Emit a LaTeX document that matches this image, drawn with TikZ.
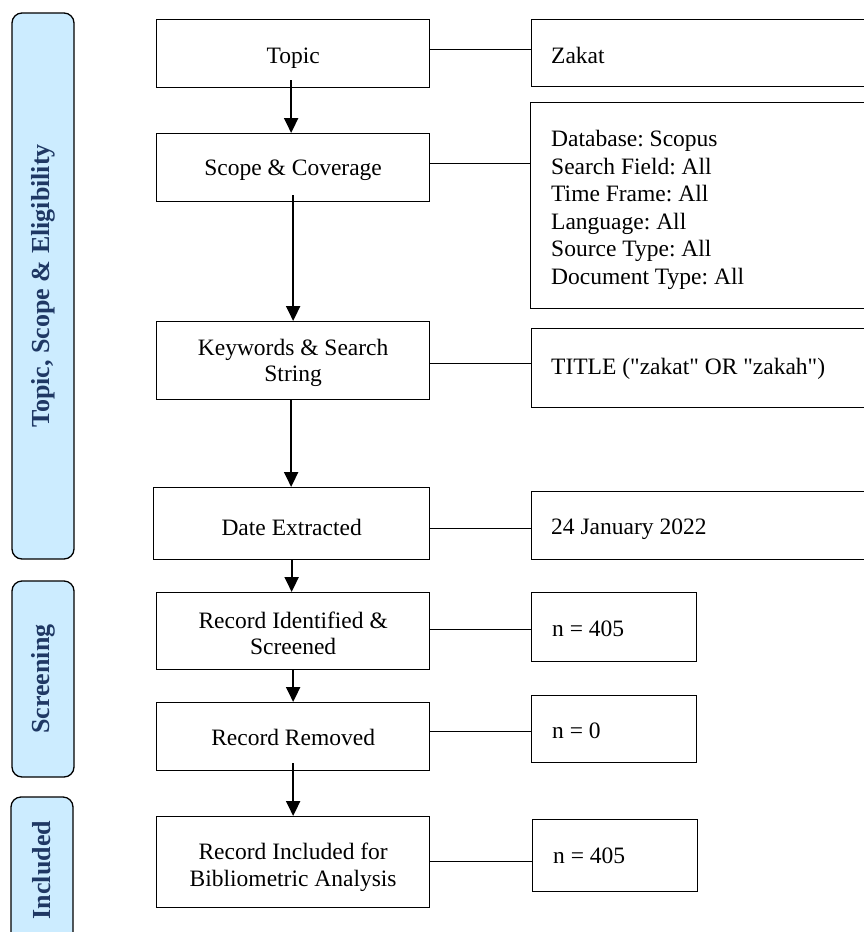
\documentclass[tikz,border=0pt]{standalone}
\usepackage{fontspec}
\setmainfont{Liberation Serif}
\newfontfamily\plainserif{Liberation Serif}
\usetikzlibrary{arrows.meta}
\definecolor{barfill}{RGB}{204,236,255}
\definecolor{bartext}{RGB}{31,56,100}
\begin{document}
\frenchspacing
\begin{tikzpicture}[x=1pt,y=-1pt,
  box/.style={draw, line width=1.3pt, inner sep=0pt, anchor=north west},
  txt/.style={inner sep=0pt, align=center, font=\fontsize{23.5}{26.5}\selectfont\frenchspacing},
  rtxt/.style={inner sep=0pt, align=left, anchor=west, font=\fontsize{23.5}{27.5}\selectfont\frenchspacing},
  bar/.style={draw, line width=1.3pt, fill=barfill, rounded corners=10pt, rotate=90, inner sep=0pt,
    minimum height=62pt, text=bartext, font=\fontsize{26}{30}\selectfont\bfseries},
  arr/.style={line width=2pt, -{Triangle[width=14pt,length=15pt]}},
  link/.style={line width=1pt}]
\useasboundingbox (0,0) rectangle (864,932);
\clip (0,0) rectangle (864,932);

% phase bars
\node[bar, minimum width=546pt] (bar1) at (43,286) {Topic, Scope \& Eligibility};
\node[bar, minimum width=196pt] (bar2) at (43,679) {Screening};
\node[bar, minimum width=146pt] (bar3) at (42,870) {Included};

% left column boxes
\node[box, minimum width=273pt, minimum height=68pt] (topic) at (156,19) {};
\node[box, minimum width=273pt, minimum height=68pt] (scope) at (156,133) {};
\node[box, minimum width=273pt, minimum height=78pt] (keys) at (156,321) {};
\node[box, minimum width=276pt, minimum height=72pt] (date) at (153,487) {};
\node[box, minimum width=273pt, minimum height=77pt] (ident) at (156,592) {};
\node[box, minimum width=273pt, minimum height=68pt] (removed) at (156,702) {};
\node[box, minimum width=273pt, minimum height=91pt] (incl) at (156,816) {};

\node[txt] (topicT) at ([yshift=-5pt]topic.center) {Topic};
\node[txt] (scopeT) at ([yshift=-3pt]scope.center) {Scope \& Coverage};
\node[txt] (keysT) at ([yshift=-2pt]keys.center) {Keywords \& Search\\String};
\node[txt] (dateT) at ([yshift=-4pt]date.center) {Date Extracted};
\node[txt] (identT) at ([yshift=-2pt]ident.center) {Record Identified \&\\Screened};
\node[txt] (removedT) at ([yshift=-1pt]removed.center) {Record Removed};
\node[txt] (inclT) at ([yshift=-5pt]incl.center) {Record Included for\\Bibliometric Analysis};

% right column boxes
\node[box, minimum width=349pt, minimum height=67pt] (zakat) at (531,19) {};
\node[box, minimum width=350pt, minimum height=206pt] (db) at (530,102) {};
\node[box, minimum width=349pt, minimum height=79pt] (title) at (531,328) {};
\node[box, minimum width=349pt, minimum height=68pt] (jan) at (531,491) {};
\node[box, minimum width=165pt, minimum height=69pt] (n1) at (531,592) {};
\node[box, minimum width=165pt, minimum height=67pt] (n2) at (531,695) {};
\node[box, minimum width=165pt, minimum height=72pt] (n3) at (532,819) {};

\node[rtxt] (zakatT) at ([xshift=20pt,yshift=-2pt]zakat.west) {Zakat};
\node[rtxt] (dbT) at ([xshift=21pt,yshift=-4pt]db.west) {Database: Scopus\\Search Field: All\\Time Frame: All\\Language: All\\Source Type: All\\Document Type: All};
\node[rtxt] (titleT) at ([xshift=20pt,yshift=-1pt]title.west) {\plainserif TITLE ("zakat" OR "zakah")};
\node[rtxt] (janT) at ([xshift=20pt,yshift=-4pt]jan.west) {24 January 2022};
\node[rtxt] (n1T) at ([xshift=21pt,yshift=-2pt]n1.west) {n = 405};
\node[rtxt] (n2T) at ([xshift=21pt,yshift=-2pt]n2.west) {n = 0};
\node[rtxt] (n3T) at ([xshift=21pt]n3.west) {n = 405};

% arrows
\draw[arr] ([xshift=-2pt,yshift=8pt]topic.south) -- ([xshift=-2pt]scope.north);
\draw[arr] ([yshift=7pt]scope.south) -- (keys.north);
\draw[arr] ([xshift=-2pt]keys.south) -- ([xshift=-2pt]keys.south |- date.north);
\draw[arr] (date.south) -- (date.south |- ident.north);
\draw[arr] (ident.south) -- (removed.north);
\draw[arr] ([yshift=8pt]removed.south) -- (incl.north);

% side connectors
\draw[link] (topic.east |- 0,49) -- (zakat.west |- 0,49);
\draw[link] (scope.east |- 0,163) -- (db.west |- 0,163);
\draw[link] (keys.east |- 0,363) -- (title.west |- 0,363);
\draw[link] (date.east |- 0,528) -- (jan.west |- 0,528);
\draw[link] (ident.east |- 0,629) -- (n1.west |- 0,629);
\draw[link] (removed.east |- 0,731) -- (n2.west |- 0,731);
\draw[link] (incl.east |- 0,861) -- (n3.west |- 0,861);
\end{tikzpicture}
\end{document}
